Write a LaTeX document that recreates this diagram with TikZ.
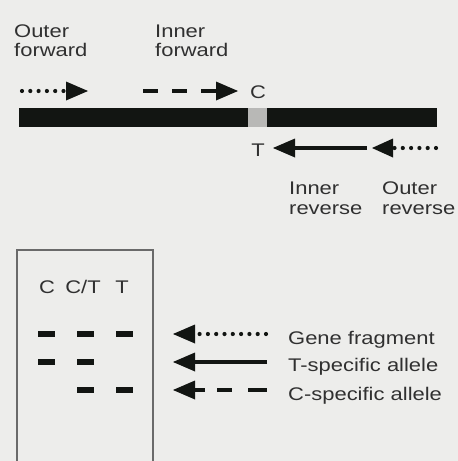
\documentclass[tikz,border=0pt]{standalone}
\usepackage{fontspec}
\newfontfamily\labfont[FakeStretch=1.2]{Liberation Sans}
\usetikzlibrary{arrows.meta}
\definecolor{bg}{HTML}{EDEDEB}
\definecolor{ink}{HTML}{121512}
\definecolor{txt}{HTML}{303030}
\definecolor{snp}{HTML}{B8B8B6}
\definecolor{frame}{HTML}{6A6A6A}
\begin{document}
\begin{tikzpicture}[x=1pt,y=-1pt,
  lbl/.style={font=\labfont\fontsize{18.3}{19.5}\selectfont, text=txt, inner sep=0pt, align=left},
  dotline/.style={draw=ink, line width=4.2pt, line cap=round, dash pattern=on 0pt off 8.3pt},
  dashline/.style={draw=ink, line width=4pt, dash pattern=on 15pt off 14pt},
  solidline/.style={draw=ink, line width=4pt},
  band/.style={fill=ink, draw=none, minimum width=17pt, minimum height=6pt, inner sep=0pt}
]
\fill[bg] (0,0) rectangle (458,461);
\useasboundingbox (0,0) rectangle (458,461);

% top labels
\node[lbl, anchor=north west] (of) at (14,24.5) {Outer\\forward};
\node[lbl, anchor=north west] (if) at (155,24.5) {Inner\\forward};
\node[lbl, anchor=north west] (ir) at (289,182) {Inner\\reverse};
\node[lbl, anchor=north west] (or) at (382,182) {Outer\\reverse};

% gene bar
\fill[ink] (19,108) rectangle (248,127);
\fill[snp] (248,108) rectangle (267,127);
\fill[ink] (267,108) rectangle (437,127);

\node[lbl] (c) at (258,92) {C};
\node[lbl] (t) at (258,150) {T};

% primers
\coordinate (ofs) at (22,91);
\coordinate (ofe) at (88,91);
\coordinate (ifs) at (143,91);
\coordinate (ife) at (238,91);
\coordinate (irs) at (367,148);
\coordinate (ire) at (273,148);
\coordinate (ors) at (436,148);
\coordinate (ore) at (372,148);

\draw[dotline] (ofs) -- (66,91);
\fill[ink] (ofe) -- (66,81.5) -- (66,100.5) -- cycle;
\draw[dashline] (ifs) -- (218,91);
\fill[ink] (ife) -- (216,81.5) -- (216,100.5) -- cycle;
\draw[solidline] (irs) -- (293,148);
\fill[ink] (ire) -- (295,138.5) -- (295,157.5) -- cycle;
\draw[dotline] (ors) -- (394,148);
\fill[ink] (ore) -- (393,138.5) -- (393,157.5) -- cycle;

% gel
\draw[frame, line width=1.5pt] (17,463) -- (17,250) -- (153,250) -- (153,463);
\node[lbl] (l1) at (47,287) {C};
\node[lbl] (l2) at (83,287) {C/T};
\node[lbl] (l3) at (122,287) {T};

\node[band] (b11) at (46.5,334) {};
\node[band] (b12) at (85.5,334) {};
\node[band] (b13) at (124,334) {};
\node[band] (b21) at (46.5,362) {};
\node[band] (b22) at (85.5,362) {};
\node[band] (b32) at (85.5,390) {};
\node[band] (b33) at (124,390) {};

% legend
\draw[dotline] (266,334) -- (198,334);
\fill[ink] (173,334) -- (195,324.5) -- (195,343.5) -- cycle;
\draw[solidline] (267,362) -- (193,362);
\fill[ink] (173,362) -- (195,352.5) -- (195,371.5) -- cycle;
\draw[ink, line width=4pt] (190,390) -- (205,390);
\draw[ink, line width=4pt] (217,390) -- (232,390);
\draw[ink, line width=4pt] (248,390) -- (267,390);
\fill[ink] (173,390) -- (195,380.5) -- (195,399.5) -- cycle;

\node[lbl, anchor=base west] (g1) at (288,344) {Gene fragment};
\node[lbl, anchor=base west] (g2) at (288,371) {T-specific allele};
\node[lbl, anchor=base west] (g3) at (288,400) {C-specific allele};
\end{tikzpicture}
\end{document}
